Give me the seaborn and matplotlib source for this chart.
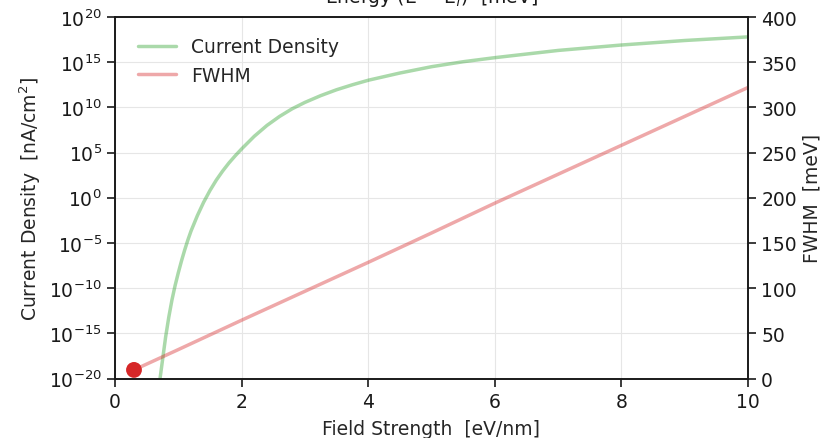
import numpy as np
import pandas as pd
import matplotlib
matplotlib.use("Agg")
import matplotlib.pyplot as plt
import matplotlib.ticker as mticker
import seaborn as sns

# ---- data ----
field_cd = [0.70, 0.75, 0.80, 0.85, 0.90, 0.95, 1.00, 1.05, 1.10, 1.15, 1.20, 1.30, 1.40,
            1.50, 1.60, 1.70, 1.80, 1.90, 2.00, 2.20, 2.40, 2.60, 2.80, 3.00, 3.25,
            3.50, 3.75, 4.00, 4.50, 5.00, 5.50, 6.00, 7.00, 8.00, 9.00, 10.0]
cd_exponent = [-20.6, -18.0, -15.4, -13.2, -11.3, -9.7, -8.3, -7.0, -5.8, -4.7, -3.7, -2.0, -0.5,
               0.8, 1.95, 2.95, 3.85, 4.65, 5.4, 6.8, 8.0, 9.0, 9.85, 10.55, 11.3,
               11.95, 12.5, 13.0, 13.8, 14.5, 15.05, 15.5, 16.3, 16.9, 17.4, 17.8]
field_fw = [0.3, 1, 2, 3, 4, 5, 6, 7, 8, 9, 10]
fwhm = [9.5, 32, 64.5, 96.5, 128.5, 161, 194, 226, 258, 290, 322]
marker_x = [0.3]
marker_y = [9.5]

df_cd = pd.DataFrame({"field": field_cd, "cd": [10.0 ** e for e in cd_exponent]})
df_fw = pd.DataFrame({"field": field_fw, "fwhm": fwhm})
df_mk = pd.DataFrame({"field": marker_x, "fwhm": marker_y})

sns.set_theme(style="ticks")
plt.rcParams["font.family"] = ["DejaVu Sans"]

FS = 13.5

fig = plt.figure(figsize=(8.23, 4.39), dpi=100)
ax = fig.add_axes([115 / 823, 1 - 379.5 / 439, (748 - 115) / 823, (379.5 - 18) / 439])
ax2 = ax.twinx()

green = "#2ca02c"
red = "#d62728"

sns.lineplot(data=df_cd, x="field", y="cd", ax=ax, color=green, alpha=0.4,
             linewidth=2.5, label="Current Density", legend=False)
sns.lineplot(data=df_fw, x="field", y="fwhm", ax=ax2, color=red, alpha=0.4,
             linewidth=2.5, label="FWHM", legend=False)
sns.scatterplot(data=df_mk, x="field", y="fwhm", ax=ax2, color=red, s=130,
                edgecolor="none", zorder=5, legend=False)

ax.set_yscale("log")
ax.set_xlim(0, 10)
ax.set_ylim(1e-20, 1e20)
ax.set_yticks([10.0 ** k for k in range(-20, 21, 5)])
ax.yaxis.set_minor_locator(mticker.NullLocator())
ax.set_xticks([0, 2, 4, 6, 8, 10])
ax2.set_ylim(0, 400)
ax2.set_yticks(range(0, 401, 50))

ax.grid(True, color="#e6e6e6", linewidth=0.8)
ax.set_axisbelow(True)

for a in (ax, ax2):
    for s in a.spines.values():
        s.set_color("#1a1a1a")
        s.set_linewidth(1.2)
    a.tick_params(labelsize=FS, colors="#1a1a1a", length=6, width=1.2)

ax.set_xlabel("Field Strength  [eV/nm]", fontsize=FS, labelpad=6)
ax.set_ylabel("Current Density  [nA/cm$^2$]", fontsize=FS)
ax2.set_ylabel("FWHM  [meV]", fontsize=FS)

fig.text(431.5 / 823, 1 - 3 / 439, "Energy (E − E$_f$)  [meV]", ha="center",
         va="baseline", fontsize=FS, color="#1a1a1a")

h1, l1 = ax.get_legend_handles_labels()
h2, l2 = ax2.get_legend_handles_labels()
ax.legend(h1 + h2, l1 + l2, loc="upper left", frameon=False, fontsize=FS,
          bbox_to_anchor=(0.01, 0.99))

fig.savefig("out.png", dpi=100)
